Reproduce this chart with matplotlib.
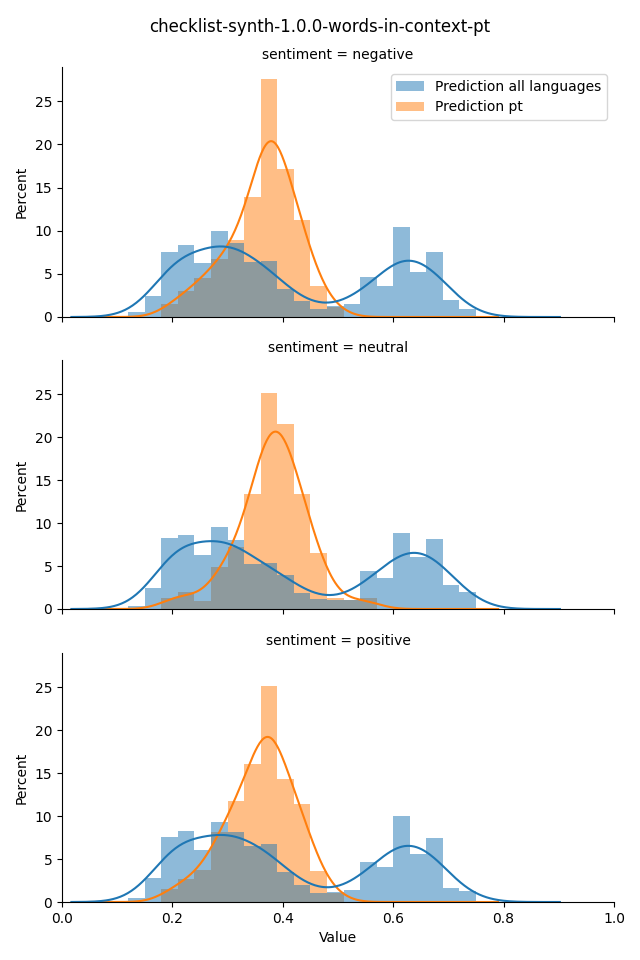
import numpy as np
import matplotlib
matplotlib.use("Agg")
import matplotlib.pyplot as plt
from matplotlib.patches import Patch

# ---- data (percent per bin, bins of width 0.03 starting at 0.12) ----
bin_start = 0.12
bin_width = 0.03
n_bins = 21

sentiments = ["negative", "neutral", "positive"]
series_names = ["Prediction all languages", "Prediction pt"]

all_negative = [0.58, 2.4, 7.5, 8.3, 6.3, 10.0, 8.6, 6.4, 6.5, 3.2, 1.85, 0.9, 1.3, 1.5, 4.6, 3.6, 10.45, 5.2, 7.5, 1.95, 0.88]
all_neutral = [0.39, 2.48, 8.3, 8.6, 6.3, 9.5, 8.0, 5.2, 5.35, 3.9, 1.88, 1.18, 1.05, 1.05, 4.4, 3.6, 8.84, 6.1, 8.14, 2.8, 1.98]
all_positive = [0.5, 2.8, 7.6, 8.3, 6.1, 9.26, 8.1, 6.5, 6.8, 3.5, 1.95, 1.08, 1.2, 1.4, 4.7, 4.05, 9.96, 5.54, 7.5, 1.6, 1.24]

pt_negative = [0, 0, 1.5, 3.0, 4.5, 6.7, 8.9, 13.95, 27.6, 17.1, 11.2, 3.6, 1.2, 0, 0, 0, 0, 0, 0, 0, 0]
pt_neutral = [0, 0, 1.3, 2.0, 0.95, 4.9, 7.2, 13.4, 25.1, 21.5, 13.4, 6.5, 1.3, 1.0, 1.3, 0, 0, 0, 0, 0, 0]
pt_positive = [0, 0, 1.5, 2.65, 3.75, 8.1, 11.8, 16.1, 25.1, 14.3, 11.4, 3.6, 1.1, 0, 0, 0, 0, 0, 0, 0, 0]

all_series = [all_negative, all_neutral, all_positive]
pt_series = [pt_negative, pt_neutral, pt_positive]

# KDE settings (range of curve, bandwidth)
kde_range_all = (0.017, 0.902)
kde_range_pt = (0.05, 0.79)
bw_all = 0.04
bw_pt = 0.028

colors = ["#1f77b4", "#ff7f0e"]

edges = bin_start + bin_width * np.arange(n_bins + 1)
centers = (edges[:-1] + edges[1:]) / 2


def kde_curve(weights, bw, xr):
    w = np.asarray(weights, float)
    x = np.linspace(xr[0], xr[1], 400)
    dens = np.zeros_like(x)
    for c, wi in zip(centers, w):
        dens += wi * np.exp(-0.5 * ((x - c) / bw) ** 2) / (bw * np.sqrt(2 * np.pi))
    dens /= w.sum()
    return x, dens * 100 * bin_width


fig = plt.figure(figsize=(6.4, 9.6), dpi=100)
left, width = 62 / 640, 552 / 640
tops = [67, 360, 653]
bottoms = [317, 609, 902]
axes = []
for i in range(3):
    b = 1 - bottoms[i] / 960
    h = (bottoms[i] - tops[i]) / 960
    if i == 0:
        ax = fig.add_axes([left, b, width, h])
    else:
        ax = fig.add_axes([left, b, width, h], sharex=axes[0], sharey=axes[0])
    axes.append(ax)

for i, ax in enumerate(axes):
    layers = [(all_series[i], bw_all, kde_range_all, colors[0]),
              (pt_series[i], bw_pt, kde_range_pt, colors[1])]
    # bars: orange drawn first, blue on top (seaborn layer order)
    for vals, bw, xr, col in reversed(layers):
        ax.bar(edges[:-1], vals, width=bin_width, align="edge",
               color=col, alpha=0.5, linewidth=0)
    for vals, bw, xr, col in reversed(layers):
        x, y = kde_curve(vals, bw, xr)
        ax.plot(x, y, color=col, linewidth=1.5)
    ax.set_title(f"sentiment = {sentiments[i]}", fontsize=10)
    ax.set_ylabel("Percent")
    ax.spines["top"].set_visible(False)
    ax.spines["right"].set_visible(False)
    if i < 2:
        ax.tick_params(labelbottom=False)

axes[0].set_xlim(0, 1)
axes[0].set_yticks([0, 5, 10, 15, 20, 25])
axes[2].set_xlabel("Value")

handles = [Patch(facecolor=colors[k], alpha=0.5, linewidth=0) for k in range(2)]
axes[0].legend(handles, series_names, loc="upper right")

fig.suptitle("checklist-synth-1.0.0-words-in-context-pt", fontsize=12, y=1 - 27 / 960, va="center")

fig.savefig("out.png", dpi=100)
